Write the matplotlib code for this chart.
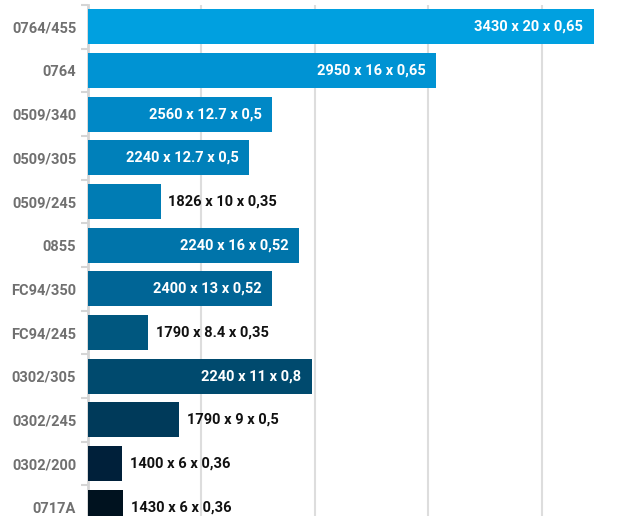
import numpy as np
import matplotlib.pyplot as plt
from matplotlib.ticker import MultipleLocator, FixedLocator

# profiles and their dimensions (length x width x thickness)
names = ["0764/455", "0764", "0509/340", "0509/305", "0509/245", "0855",
         "FC94/350", "FC94/245", "0302/305", "0302/245", "0302/200", "0717A"]
lengths = [3430, 2950, 2560, 2240, 1826, 2240, 2400, 1790, 2240, 1790, 1400, 1430]
widths = [20, 16, 12.7, 12.7, 10, 16, 13, 8.4, 11, 9, 6, 6]
thick = [0.65, 0.65, 0.5, 0.5, 0.35, 0.52, 0.52, 0.35, 0.8, 0.5, 0.36, 0.36]
width_txt = ["20", "16", "12.7", "12.7", "10", "16", "13", "8.4", "11", "9", "6", "6"]
thick_txt = ["0,65", "0,65", "0,5", "0,5", "0,35", "0,52", "0,52", "0,35", "0,8", "0,5", "0,36", "0,36"]
colors = ["#00A0E0", "#0093D3", "#0088C6", "#0080BA", "#007CB4", "#0074AA",
          "#006596", "#00577F", "#004A6E", "#003A5A", "#00203A", "#00121F"]

values = np.array(lengths) * np.array(widths) * np.array(thick)
labels = [f"{l} x {w} x {t}" for l, w, t in zip(lengths, width_txt, thick_txt)]

plt.rcParams['font.family'] = ['Roboto', 'DejaVu Sans']

fig = plt.figure(figsize=(6.4, 5.16), dpi=100)
ax = fig.add_axes([0.1375, -0.0252, 0.8625, 1.0155])

y = np.arange(len(names))
ax.barh(y, values, height=0.8, color=colors, zorder=3)

ax.set_ylim(len(names) - 0.5, -0.5)
ax.set_xlim(0, 48650)

# value labels: inside for long bars, outside for short ones
for i, (v, s) in enumerate(zip(values, labels)):
    if v > 10000:
        ax.text(v - 950, i, s, ha="right", va="center", color="white",
                fontsize=10.5, fontweight="bold", zorder=4)
    else:
        ax.text(v + 700, i, s, ha="left", va="center", color="#111111",
                fontsize=10.5, fontweight="bold", zorder=4)

ax.set_yticks(y)
ax.set_yticklabels(names, fontsize=10.5, fontweight="bold", color="#707070")
ax.tick_params(axis="y", which="major", length=0, pad=8.5)
ax.yaxis.set_minor_locator(FixedLocator(np.arange(-0.5, len(names), 1.0)))
ax.tick_params(axis="y", which="minor", length=5, width=1.5, color="#d5d5d5")

ax.xaxis.set_major_locator(MultipleLocator(10000))
ax.tick_params(axis="x", length=0, labelbottom=False)
ax.grid(axis="x", color="#dddddd", linewidth=1.5, zorder=0)

for side in ["top", "right", "bottom"]:
    ax.spines[side].set_visible(False)
ax.spines["left"].set_color("#d5d5d5")
ax.spines["left"].set_linewidth(2)

plt.savefig("out.png", dpi=100)
